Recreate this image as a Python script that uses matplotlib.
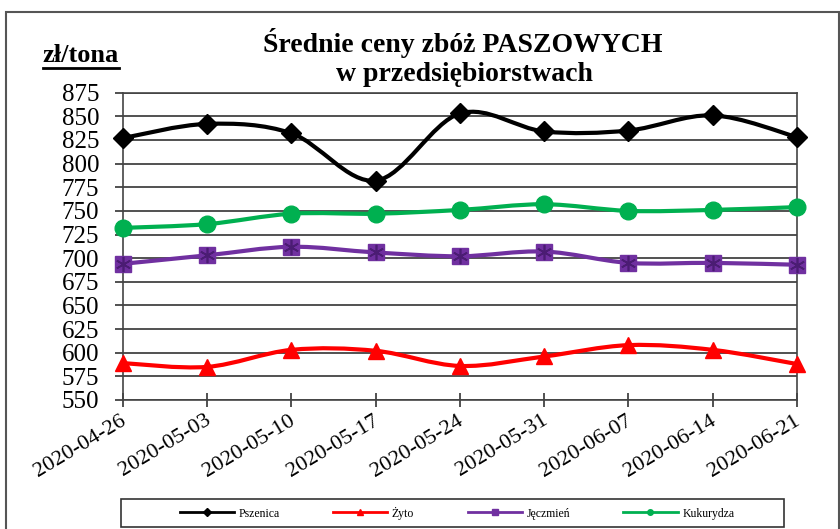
import matplotlib
matplotlib.use("Agg")
import matplotlib.pyplot as plt
import matplotlib.transforms as mtransforms
import numpy as np
from matplotlib.path import Path
from matplotlib.patches import PathPatch, Rectangle
from matplotlib.lines import Line2D

dates = ["2020-04-26", "2020-05-03", "2020-05-10", "2020-05-17", "2020-05-24",
         "2020-05-31", "2020-06-07", "2020-06-14", "2020-06-21"]
pszenica = [827, 842, 832, 782, 853, 834, 835, 851, 828]
zyto = [589, 585, 603, 602, 586, 596, 608, 603, 588]
jeczmien = [694, 703, 712, 706, 702, 707, 695, 695, 693]
kukurydza = [732, 736, 747, 747, 751, 757, 750, 751, 754]

plt.rcParams["font.family"] = ["Liberation Serif", "DejaVu Serif"]


def smooth_path(x, y):
    # Excel-like smoothed line: Catmull-Rom segments as cubic Bezier
    pts = np.column_stack([x, y]).astype(float)
    n = len(pts)
    verts = [pts[0]]
    codes = [Path.MOVETO]
    for i in range(n - 1):
        p0 = pts[max(i - 1, 0)]
        p1 = pts[i]
        p2 = pts[i + 1]
        p3 = pts[min(i + 2, n - 1)]
        c1 = p1 + (p2 - p0) / 6.0
        c2 = p2 - (p3 - p1) / 6.0
        verts += [c1, c2, p2]
        codes += [Path.CURVE4] * 3
    return Path(verts, codes)


fig = plt.figure(figsize=(8.4, 5.29), dpi=100)
ax = fig.add_axes([0.1464, 0.2439, 0.8024, 0.5809])

x = np.arange(len(dates))
series = [
    ("Pszenica", pszenica, "#000000", "D", 10),
    ("Żyto", zyto, "#FF0000", "^", 11),
    ("Jęczmień", jeczmien, "#7030A0", "s", 11),
    ("Kukurydza", kukurydza, "#00B050", "o", 12),
]

handles = []
for name, vals, col, mk, ms in series:
    ax.add_patch(PathPatch(smooth_path(x, vals), facecolor="none", edgecolor=col,
                           lw=3, zorder=3, clip_on=False))
    ax.plot(x, vals, linestyle="none", marker=mk, ms=ms, color=col, zorder=4,
            clip_on=False)
    if name == "Jęczmień":
        ax.plot(x, vals, linestyle="none", marker=(6, 2, 0), ms=ms, color="#4B1C73",
                mew=1.2, zorder=5, clip_on=False)
    handles.append(Line2D([0], [0], color=col, lw=2, marker=mk, ms=4))

ax.set_xlim(0, len(dates) - 1)
ax.set_ylim(550, 875)
ax.set_yticks(np.arange(550, 876, 25))
ax.set_xticks(x)
ax.set_xticklabels(dates, rotation=31, ha="right", rotation_mode="anchor")
ax.tick_params(axis="y", labelsize=18, direction="out", length=6, width=1.2,
               color="#333333", pad=11)
ax.tick_params(axis="x", labelsize=16, direction="inout", length=10, width=1.2,
               color="#333333", pad=3)
shift = mtransforms.ScaledTranslation(-3 / 100, 0, fig.dpi_scale_trans)
for lbl in ax.get_xticklabels():
    lbl.set_transform(lbl.get_transform() + shift)
ax.grid(axis="y", color="#333333", lw=1.2)
ax.set_axisbelow(True)
for s in ax.spines.values():
    s.set_color("#444444")
    s.set_linewidth(1.2)

# titles
fig.text(0.551, 0.918, "Średnie ceny zbóż PASZOWYCH", ha="center", va="center",
         fontsize=20, fontweight="bold")
fig.text(0.553, 0.86, "w przedsiębiorstwach", ha="center", va="center",
         fontsize=20, fontweight="bold")
fig.text(0.0965, 0.896, "zł/tona", ha="center", va="center", fontsize=19,
         fontweight="bold")
fig.add_artist(Line2D([43 / 840, 119 / 840], [1 - 68 / 529, 1 - 68 / 529],
                      color="black", lw=2))

# outer frame
fig.add_artist(Rectangle((6 / 840, -0.05), 833 / 840, 1.05 - 12 / 529, fill=False,
                         edgecolor="#555555", lw=1.5))

# legend box
fig.add_artist(Rectangle((121 / 840, 1 - 527 / 529), 663 / 840, 28 / 529,
                         facecolor="white", edgecolor="#333333", lw=1.2))
leg = fig.legend(handles, [s[0] for s in series], loc="center",
                 bbox_to_anchor=(457 / 840, 1 - 513 / 529), ncol=4, fontsize=8.5,
                 handlelength=4.6, handletextpad=0.4, columnspacing=4.5,
                 frameon=False)

fig.savefig("out.png", dpi=100)
